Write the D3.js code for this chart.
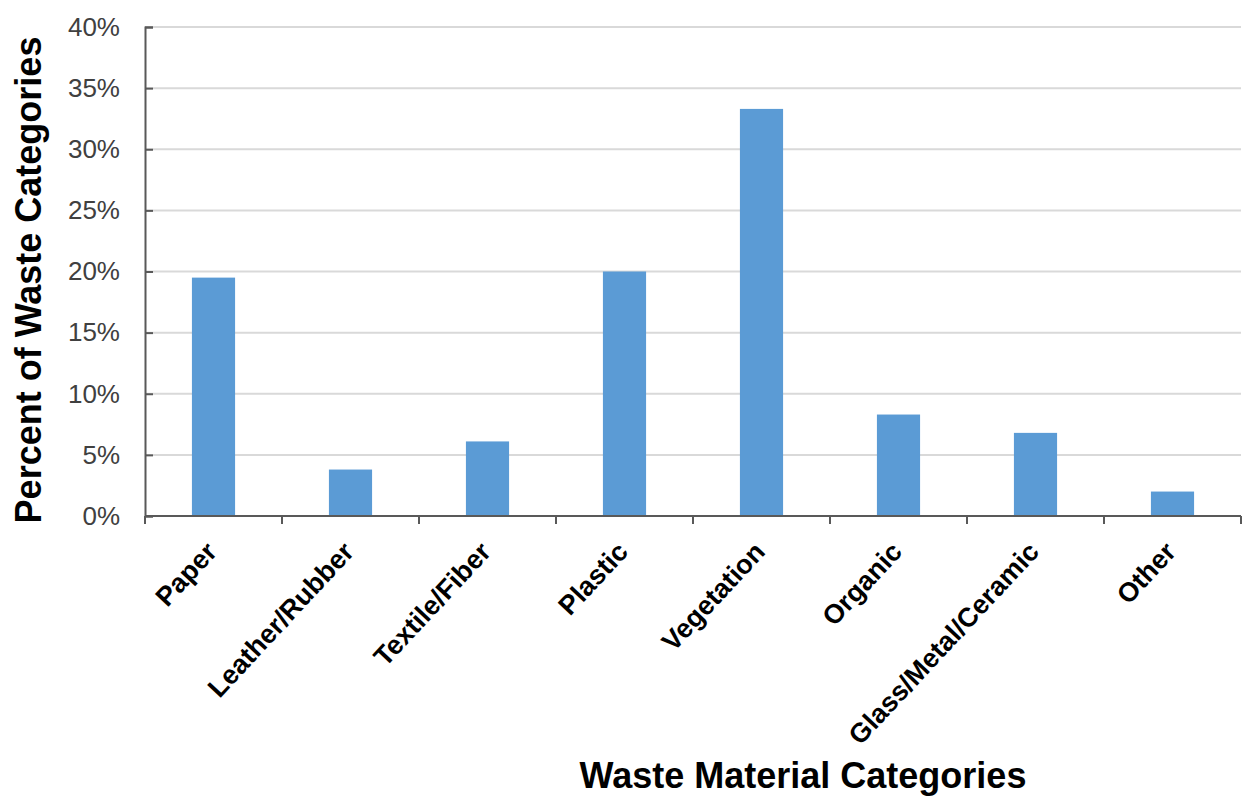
<!DOCTYPE html>
<html>
<head>
<meta charset="utf-8">
<script src="https://cdn.jsdelivr.net/npm/d3@7"></script>
<style>
  html, body { margin: 0; padding: 0; background: #fff; }
  svg { display: block; }
  text { font-family: Arial, "Liberation Sans", Helvetica, sans-serif; }
</style>
</head>
<body>
<svg id="chart" width="1246" height="798"></svg>
<script>
const categories = ["Paper", "Leather/Rubber", "Textile/Fiber", "Plastic", "Vegetation", "Organic", "Glass/Metal/Ceramic", "Other"];
const values = [19.5, 3.8, 6.1, 20.0, 33.3, 8.3, 6.8, 2.0];
const yTicks = [0, 5, 10, 15, 20, 25, 30, 35, 40];
const yTitle = "Percent of Waste Categories";
const xTitle = "Waste Material Categories";

const svg = d3.select("#chart");
const mLeft = 145, mRight = 1241, mTop = 27, mBottom = 516;

const x = d3.scaleBand().domain(categories).range([mLeft, mRight]).paddingInner(0.685).paddingOuter(0.3425);
const xb = d3.scaleBand().domain(categories).range([mLeft, mRight]).padding(0);
const y = d3.scaleLinear().domain([0, 40]).range([mBottom, mTop]);

// gridlines
svg.append("g")
  .selectAll("line")
  .data(yTicks.filter(d => d > 0))
  .join("line")
  .attr("x1", mLeft).attr("x2", mRight)
  .attr("y1", d => y(d)).attr("y2", d => y(d))
  .attr("stroke", "#d9d9d9").attr("stroke-width", 2);

// bars
svg.append("g")
  .selectAll("rect")
  .data(values)
  .join("rect")
  .attr("x", (d, i) => x(categories[i]))
  .attr("width", x.bandwidth())
  .attr("y", d => y(d))
  .attr("height", d => y(0) - y(d))
  .attr("fill", "#5b9bd5");

// y axis
const yAxis = d3.axisLeft(y).tickValues(yTicks).tickSize(-8).tickPadding(25).tickFormat(d => d + "%");
const gy = svg.append("g").attr("transform", `translate(${mLeft},0)`).call(yAxis);
gy.select(".domain").attr("stroke", "#595959").attr("stroke-width", 2);
gy.selectAll(".tick line").attr("stroke", "#595959").attr("stroke-width", 2);
gy.selectAll(".tick text").attr("font-size", 26).attr("fill", "#404040")
  .attr("font-family", "Arial, 'Liberation Sans', sans-serif");

// x axis (ticks at band boundaries)
const gx = svg.append("g").attr("transform", `translate(0,${mBottom})`);
gx.append("line").attr("x1", mLeft).attr("x2", mRight).attr("y1", 0).attr("y2", 0)
  .attr("stroke", "#595959").attr("stroke-width", 2);
const bounds = categories.map(c => xb(c)).concat([mRight]);
gx.selectAll("line.tk").data(bounds).join("line").attr("class", "tk")
  .attr("x1", d => d).attr("x2", d => d).attr("y1", 0).attr("y2", 8)
  .attr("stroke", "#595959").attr("stroke-width", 2);

gx.selectAll("text.lbl").data(categories).join("text").attr("class", "lbl")
  .attr("transform", d => `translate(${xb(d) + xb.bandwidth() / 2 + 5},${37}) rotate(-47)`)
  .attr("text-anchor", "end")
  .attr("font-size", 27).attr("font-weight", "bold").attr("fill", "#000")
  .text(d => d);

// titles
svg.append("text")
  .attr("transform", `translate(41,280) rotate(-90)`)
  .attr("text-anchor", "middle")
  .attr("font-size", 36).attr("font-weight", "bold").attr("fill", "#000")
  .text(yTitle);

svg.append("text")
  .attr("x", 803).attr("y", 788)
  .attr("text-anchor", "middle")
  .attr("font-size", 36).attr("font-weight", "bold").attr("fill", "#000")
  .text(xTitle);
</script>
</body>
</html>
